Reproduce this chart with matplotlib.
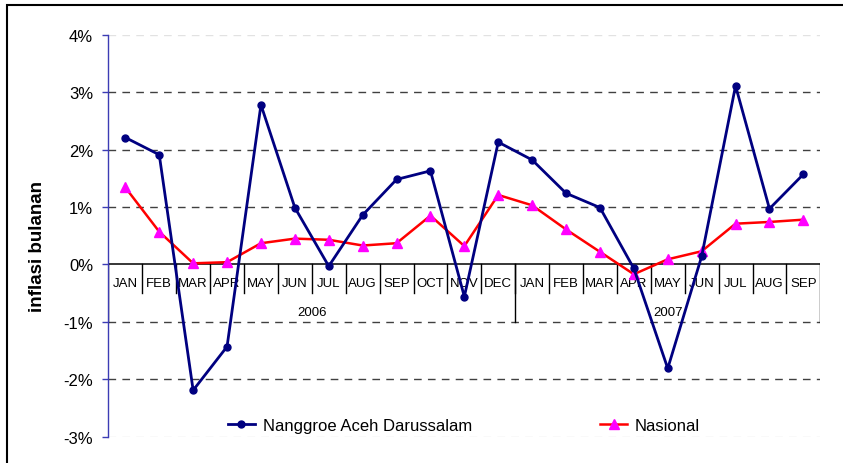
import numpy as np
import matplotlib
matplotlib.use('Agg')
import matplotlib.pyplot as plt
import matplotlib.patches as mpatches

plt.rcParams['font.family'] = ['Liberation Sans', 'DejaVu Sans']

# Data (monthly inflation, %)
months = ['JAN', 'FEB', 'MAR', 'APR', 'MAY', 'JUN', 'JUL', 'AUG', 'SEP', 'OCT', 'NOV', 'DEC',
          'JAN', 'FEB', 'MAR', 'APR', 'MAY', 'JUN', 'JUL', 'AUG', 'SEP']
years = ['2006', '2007']
year_sizes = [12, 9]

nad = [2.21, 1.91, -2.19, -1.43, 2.78, 0.99, -0.03, 0.86, 1.48, 1.63, -0.56, 2.13,
       1.82, 1.24, 0.99, -0.07, -1.81, 0.14, 3.11, 0.97, 1.57]
nasional = [1.34, 0.57, 0.02, 0.04, 0.37, 0.45, 0.43, 0.33, 0.37, 0.85, 0.32, 1.21,
            1.03, 0.61, 0.22, -0.17, 0.09, 0.23, 0.71, 0.74, 0.78]

y_ticks = [-3, -2, -1, 0, 1, 2, 3, 4]

W, H = 843, 464
fig = plt.figure(figsize=(W / 100, H / 100), dpi=100)
ax = fig.add_axes([108.4 / W, 1 - 437.8 / H, (820.3 - 108.4) / W, (437.8 - 35.7) / H])

x = np.arange(len(months))

# gridlines
for v in y_ticks:
    if v == 0:
        continue
    col = '#e2e2e2' if v in (y_ticks[0], y_ticks[-1]) else '#404040'
    ax.axhline(v, color=col, lw=1.0, dashes=(5.5, 4.5), zorder=1)
ax.axhline(0, color='black', lw=1.1, zorder=2)

# category boxes (multi-level axis)
for i in range(len(months)):
    ax.text(i, -0.32, months[i], ha='center', va='center', fontsize=9.5, zorder=2)
    if i < len(months) - 1:
        ax.plot([i + 0.5, i + 0.5], [0, -0.5], color='black', lw=1.0, zorder=2)
start = -0.5
for yr, n in zip(years, year_sizes):
    end = start + n
    ax.plot([start, start], [0, -1], color='black', lw=1.0, zorder=2)
    ax.text((start + end) / 2, -0.83, yr, ha='center', va='center', fontsize=9.5, zorder=2)
    start = end
ax.plot([start, start], [0, -1], color='black', lw=1.0, zorder=2)

# series
ax.plot(x, nad, color='#000080', lw=2.0, marker='o', markersize=5,
        label='Nanggroe Aceh Darussalam', zorder=4)
ax.plot(x, nasional, color='#ff0000', lw=1.8, marker='^', markersize=6.5,
        markerfacecolor='#ff00ff', markeredgecolor='#ff00ff',
        label='Nasional', zorder=3)

ax.set_xlim(-0.5, len(months) - 0.5)
ax.set_ylim(-3, 4)
ax.set_xticks([])
ax.set_yticks(y_ticks)
ax.set_yticklabels([f'{v}%' for v in y_ticks], fontsize=12)
ax.tick_params(axis='y', direction='out', length=4.5, width=1, color='#3c3cb4', pad=6.5)
for s in ['top', 'right', 'bottom']:
    ax.spines[s].set_visible(False)
ax.spines['left'].set_color('#3c3cb4')
ax.spines['left'].set_linewidth(1.0)
ax.patch.set_alpha(0)

fig.text(37.5 / W, 1 - 247 / H, 'inflasi bulanan', rotation=90, ha='center', va='center',
         fontsize=13.5, fontweight='bold')

fig.legend(loc='center left', bbox_to_anchor=(228 / W, 1 - 426.7 / H), ncol=2, frameon=False,
           fontsize=12, handlelength=1.6, handletextpad=0.48, columnspacing=7.7,
           borderpad=0, borderaxespad=0)

# outer frame (only left and top edges are visible)
fig.add_artist(mpatches.Rectangle((7 / W, -0.1), 1.2, 1 - 6 / H + 0.1, transform=fig.transFigure,
                                  fill=False, edgecolor='black', lw=1.5, clip_on=False))

fig.savefig('out.png', dpi=100)
